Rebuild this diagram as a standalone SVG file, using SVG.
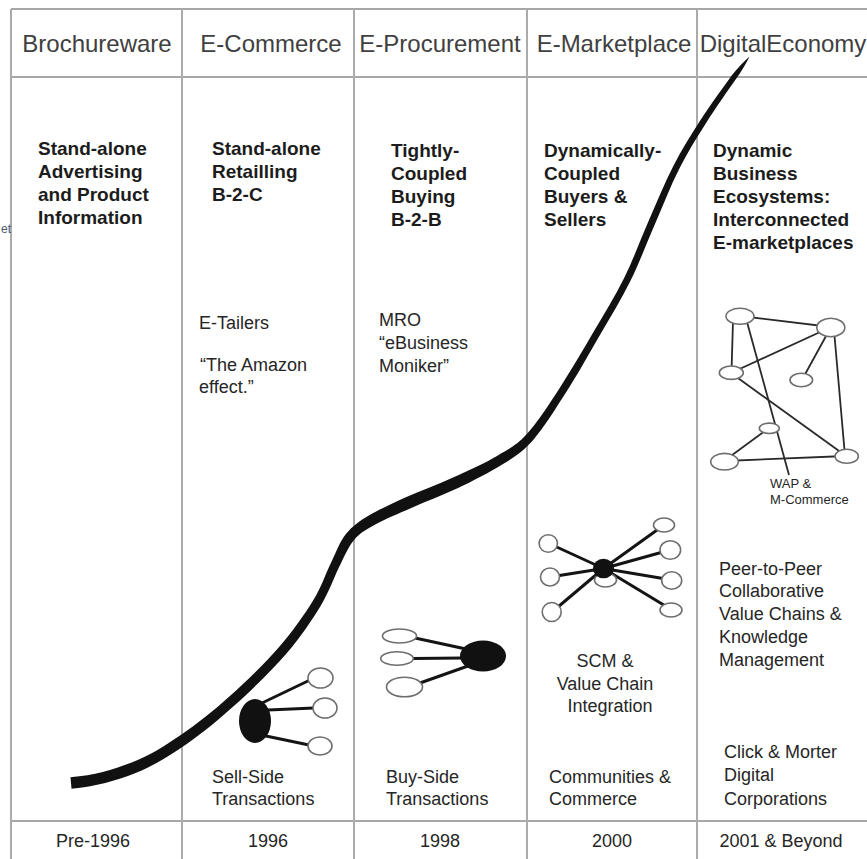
<svg xmlns="http://www.w3.org/2000/svg" width="867" height="859" viewBox="0 0 867 859">
<style>
.gv{stroke:#ababab;stroke-width:2;fill:none}
.gh{stroke:#8a8a8a;stroke-width:1.5;fill:none}
.hdr{font-family:"Liberation Sans",Arial,sans-serif;font-size:24px;fill:#404040;text-anchor:middle}
.b{font-family:"Liberation Sans",Arial,sans-serif;font-weight:bold;font-size:19px;fill:#1c1c1c}
.r{font-family:"Liberation Sans",Arial,sans-serif;font-size:18px;fill:#262626}
.c{text-anchor:middle}
.s{font-family:"Liberation Sans",Arial,sans-serif;font-size:13px;fill:#262626}
.wn{fill:#fff;stroke:#6e6e6e;stroke-width:1.6}
.bn{fill:#111}
.e{stroke:#141414;stroke-width:3;stroke-linecap:round;fill:none}
.ne{stroke:#2a2a2a;stroke-width:1.8;fill:none}
</style>
<rect width="867" height="859" fill="#fff"/>

<g id="grid">
<line class="gh" x1="11" y1="9" x2="867" y2="9"/>
<line class="gh" x1="11" y1="77" x2="867" y2="77"/>
<line class="gh" x1="11" y1="821" x2="867" y2="821"/>
<line class="gv" x1="11" y1="9" x2="11" y2="859"/>
<line class="gv" x1="182" y1="9" x2="182" y2="859"/>
<line class="gv" x1="354" y1="9" x2="354" y2="859"/>
<line class="gv" x1="527" y1="9" x2="527" y2="859"/>
<line class="gv" x1="697" y1="9" x2="697" y2="859"/>
</g>

<g id="headers">
<text class="hdr" x="97" y="52">Brochureware</text>
<text class="hdr" x="271" y="52">E-Commerce</text>
<text class="hdr" x="440" y="52">E-Procurement</text>
<text class="hdr" x="614" y="52">E-Marketplace</text>
<text class="hdr" x="783" y="52">DigitalEconomy</text>
</g>

<text id="edge-fragment" x="1" y="233" font-family="Liberation Sans, Arial, sans-serif" font-size="12" fill="#4a5870">et</text>

<g id="growth-curve">
<path fill="#111" d="M70.5,777.3 C94.5,775.3 112.3,770 131,762.8 C149.7,755.6 163.3,746.9 180,735.6 C196.7,724.3 212.9,711.2 229.6,696.2 C246.3,681.2 265.3,663 279.3,646.8 C293.3,630.6 304.4,614.8 313.1,600.6 C321.8,586.4 325.4,573.9 330.9,562.9 C336.4,551.9 339.9,541.3 346.1,533.8 C352.3,526.3 359.2,521.1 369.2,515.2 C379.2,509.5 393.8,502.7 407.6,496.5 C421.4,490.3 437.6,484.8 452.5,477.7 C467.6,470.8 484.9,463.4 497.4,455.7 C509.9,448 516.3,445.8 526.8,434.1 C537.3,422.4 548.5,405.2 559.7,387.9 C570.9,370.6 583.2,349.5 593.9,331.2 C604.6,312.9 614.7,297 623.9,278.4 C633.1,260 640.6,239.3 648.8,220.6 C657,201.9 664.6,183.2 673.1,166.5 C681.6,149.8 690.7,135.5 700.4,120.3 C710.1,105.1 724,86.2 731.7,75.4 Q741,64 749.5,56.5 Q744.5,67 736.3,78.6 C728.6,89.4 715.3,108.5 705.6,123.7 C695.9,138.9 687.4,152.8 678.9,169.5 C670.4,186.2 663.4,204.7 655.2,223.4 C647,242.1 639.3,263.1 630.1,281.6 C620.9,300.1 610.8,316.5 600.1,334.8 C589.4,353.1 577.5,374.8 566.3,392.1 C555.1,409.4 543.7,428.2 533.2,439.9 C522.7,451.6 515.1,456.6 502.6,464.3 C490.1,472 472.5,481.3 457.5,488.3 C442.5,495.3 426.2,501.3 412.4,507.5 C398.6,513.7 384.8,519 374.8,524.8 C364.8,530.6 360.1,532.7 353.9,540.2 C347.7,547.7 344.6,556.1 339.1,567.1 C333.6,578.1 329.6,591.2 320.9,605.4 C312.2,619.6 300.7,637 286.7,653.2 C272.7,669.4 253.1,688.8 236.4,703.8 C219.7,718.8 202.7,733.1 186,744.4 C169.3,755.7 153.7,766 135,773.2 C116.3,780.4 95.5,786.7 71.5,788.7 Z"/>
</g>

<g id="col-brochureware">
<text class="b"><tspan x="38" y="155">Stand-alone</tspan><tspan x="38" y="178">Advertising</tspan><tspan x="38" y="201">and Product</tspan><tspan x="38" y="224">Information</tspan></text>
<text class="r c" x="93" y="847">Pre-1996</text>
</g>

<g id="col-ecommerce">
<text class="b"><tspan x="212" y="155">Stand-alone</tspan><tspan x="212" y="178">Retailling</tspan><tspan x="212" y="201">B-2-C</tspan></text>
<text class="r" x="199" y="329">E-Tailers</text>
<text class="r"><tspan x="200" y="371">“The Amazon</tspan><tspan x="199" y="393">effect.”</tspan></text>
<text class="r"><tspan x="212" y="783">Sell-Side</tspan><tspan x="212" y="805">Transactions</tspan></text>
<text class="r c" x="268" y="847">1996</text>
</g>

<g id="col-eprocurement">
<text class="b"><tspan x="391" y="157">Tightly-</tspan><tspan x="391" y="180">Coupled</tspan><tspan x="391" y="203">Buying</tspan><tspan x="391" y="226">B-2-B</tspan></text>
<text class="r"><tspan x="379" y="326">MRO</tspan><tspan x="379" y="349">“eBusiness</tspan><tspan x="379" y="372">Moniker”</tspan></text>
<text class="r"><tspan x="386" y="783">Buy-Side</tspan><tspan x="386" y="805">Transactions</tspan></text>
<text class="r c" x="440" y="847">1998</text>
</g>

<g id="col-emarketplace">
<text class="b"><tspan x="544" y="157">Dynamically-</tspan><tspan x="544" y="180">Coupled</tspan><tspan x="544" y="203">Buyers &amp;</tspan><tspan x="544" y="226">Sellers</tspan></text>
<text class="r c"><tspan x="605" y="667">SCM &amp;</tspan><tspan x="605" y="690">Value Chain</tspan><tspan x="610" y="712">Integration</tspan></text>
<text class="r"><tspan x="549" y="783">Communities &amp;</tspan><tspan x="549" y="805">Commerce</tspan></text>
<text class="r c" x="612" y="847">2000</text>
</g>

<g id="col-digitaleconomy">
<text class="b"><tspan x="713" y="157">Dynamic</tspan><tspan x="713" y="180">Business</tspan><tspan x="713" y="203">Ecosystems:</tspan><tspan x="713" y="226">Interconnected</tspan><tspan x="713" y="249">E-marketplaces</tspan></text>
<text class="s"><tspan x="770" y="488">WAP &amp;</tspan><tspan x="770" y="504">M-Commerce</tspan></text>
<text class="r"><tspan x="719" y="575">Peer-to-Peer</tspan><tspan x="719" y="597">Collaborative</tspan><tspan x="719" y="620">Value Chains &amp;</tspan><tspan x="719" y="643">Knowledge</tspan><tspan x="719" y="666">Management</tspan></text>
<text class="r"><tspan x="724" y="758">Click &amp; Morter</tspan><tspan x="724" y="781">Digital</tspan><tspan x="724" y="805">Corporations</tspan></text>
<text class="r c" x="781" y="847">2001 &amp; Beyond</text>
</g>

<g id="connectors">
<g id="sell-side-links">
<line class="e" x1="262" y1="703" x2="310" y2="680"/>
<line class="e" x1="268" y1="710" x2="314" y2="708"/>
<line class="e" x1="266" y1="736" x2="309" y2="745"/>
</g>
<g id="buy-side-links">
<line class="e" stroke-width="2.6" x1="415" y1="638" x2="466" y2="649"/>
<line class="e" stroke-width="2.6" x1="413" y1="658.5" x2="463" y2="658"/>
<line class="e" stroke-width="2.6" x1="420" y1="683" x2="468" y2="666"/>
</g>
<g id="marketplace-links">
<line class="e" stroke-width="2.8" x1="603.5" y1="568.5" x2="548" y2="543"/>
<line class="e" stroke-width="2.8" x1="603.5" y1="568.5" x2="550" y2="577"/>
<line class="e" stroke-width="2.8" x1="603.5" y1="568.5" x2="552" y2="612"/>
<line class="e" stroke-width="2.8" x1="603.5" y1="568.5" x2="664" y2="525"/>
<line class="e" stroke-width="2.8" x1="603.5" y1="568.5" x2="670" y2="550"/>
<line class="e" stroke-width="2.8" x1="603.5" y1="568.5" x2="672" y2="580"/>
<line class="e" stroke-width="2.8" x1="603.5" y1="568.5" x2="672" y2="610"/>
</g>
<g id="ecosystem-links">
<line class="ne" x1="740" y1="316" x2="831" y2="327"/>
<line class="ne" x1="733" y1="321" x2="731.5" y2="372"/>
<line class="ne" x1="747" y1="322" x2="789" y2="475"/>
<line class="ne" x1="731" y1="373" x2="831" y2="327"/>
<line class="ne" x1="831" y1="327" x2="803" y2="378"/>
<line class="ne" x1="834" y1="330" x2="845" y2="456"/>
<line class="ne" x1="731" y1="373" x2="846" y2="456"/>
<line class="ne" x1="769" y1="428" x2="724" y2="461"/>
<line class="ne" x1="724" y1="461" x2="846" y2="456"/>
</g>
</g>

<g id="node-sell-side">
<ellipse class="bn" cx="255" cy="721" rx="16" ry="22"/>
<ellipse class="wn" cx="320.5" cy="678" rx="12.5" ry="10"/>
<ellipse class="wn" cx="325" cy="708" rx="12" ry="10"/>
<ellipse class="wn" cx="320" cy="746" rx="12" ry="9"/>
</g>

<g id="node-buy-side">
<ellipse class="bn" cx="483" cy="656" rx="23" ry="15.5"/>
<ellipse class="wn" stroke="#555" cx="399.5" cy="636" rx="17" ry="7"/>
<ellipse class="wn" stroke="#555" cx="397" cy="658.5" rx="16.3" ry="6.8"/>
<ellipse class="wn" stroke="#555" cx="404.5" cy="687" rx="18" ry="9.8"/>
</g>

<g id="node-marketplace">
<ellipse class="wn" cx="548.3" cy="543.5" rx="9.2" ry="8.8"/>
<ellipse class="wn" cx="550" cy="577" rx="9.5" ry="9"/>
<ellipse class="wn" cx="551.7" cy="612" rx="9.5" ry="9.5"/>
<ellipse class="wn" cx="664" cy="525" rx="10.5" ry="7"/>
<ellipse class="wn" cx="670.3" cy="550" rx="10.3" ry="9.3"/>
<ellipse class="wn" cx="671.7" cy="580.5" rx="10" ry="8.8"/>
<ellipse class="wn" cx="671" cy="610" rx="11" ry="7"/>
<ellipse class="wn" cx="605.5" cy="580" rx="11" ry="7"/>
<ellipse class="bn" cx="603.5" cy="568.5" rx="10.5" ry="9.8"/>
</g>

<g id="node-ecosystem">
<ellipse class="wn" cx="740" cy="316.3" rx="14" ry="8"/>
<ellipse class="wn" cx="830.8" cy="327.5" rx="14" ry="9.2"/>
<ellipse class="wn" cx="731.3" cy="372.7" rx="12" ry="6.7"/>
<ellipse class="wn" cx="801.3" cy="380" rx="11.3" ry="6.7"/>
<ellipse class="wn" cx="769.3" cy="428.3" rx="10" ry="5.2"/>
<ellipse class="wn" cx="724.5" cy="461.7" rx="13.8" ry="8.3"/>
<ellipse class="wn" cx="846.7" cy="456.3" rx="11.7" ry="7"/>
</g>
</svg>
